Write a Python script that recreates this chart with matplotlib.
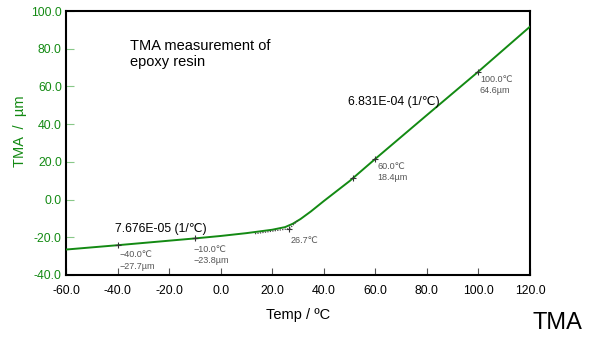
import numpy as np
import matplotlib
matplotlib.use("Agg")
import matplotlib.pyplot as plt

plt.rcParams['font.family'] = ['Liberation Sans', 'DejaVu Sans']
plt.rcParams['axes.unicode_minus'] = False

# TMA curve: temperature (°C) vs displacement (µm)
temp = [-60, -40, -10, 0, 10, 20, 25, 28, 31, 35, 40, 50, 60, 80, 100, 120]
tma = [-26.5, -24.2, -20.6, -19.3, -17.8, -16.0, -14.6, -12.8, -10.3, -6.3, -0.8,
       9.8, 21.6, 44.8, 67.9, 91.7]

# Analysis points (temperatures marked on the curve) and their labels
mark_temps = [-40.0, -10.0, 51.5, 60.0, 100.0]
mark_labels = ["\u221240.0\u2103\n\u221227.7\u00b5m", "\u221210.0\u2103\n\u221223.8\u00b5m",
               "", "60.0\u2103\n18.4\u00b5m", "100.0\u2103\n64.6\u00b5m"]

# Onset from tangent intersection
onset_temp = 26.7
onset_value = -15.4
low_tangent_start = 13.3
high_tangent_end = (30.0, -11.0)

cte_low = "7.676E-05 (1/\u2103)"
cte_high = "6.831E-04 (1/\u2103)"

xticks = [-60, -40, -20, 0, 20, 40, 60, 80, 100, 120]
yticks = [-40, -20, 0, 20, 40, 60, 80, 100]
xticklabels = ["-60.0", "-40.0", "-20.0", "0.0", "20.0", "40.0", "60.0", "80.0", "100.0", "120.0"]
yticklabels = ["-40.0", "-20.0", "0.0", "20.0", "40.0", "60.0", "80.0", "100.0"]

green = '#138a13'
label_grey = '#555555'

fig = plt.figure(figsize=(6, 3.45), dpi=100)
ax = fig.add_axes([0.11, 0.2029, 0.7733, 0.7652])

ax.plot(temp, tma, color=green, lw=1.4, zorder=3)

# Tangent extrapolations (dotted)
low_y0 = float(np.interp(low_tangent_start, temp, tma))
ax.plot([low_tangent_start, onset_temp], [low_y0 - 0.9, onset_value],
        color='#444444', lw=0.9, ls=(0, (1, 1)), zorder=4)
ax.plot([onset_temp, high_tangent_end[0]], [onset_value, high_tangent_end[1]],
        color='#444444', lw=0.9, ls=(0, (1, 1)), zorder=4)
ax.plot([onset_temp], [onset_value], marker='+', color='#333333', ms=5, mew=0.8, zorder=5)

# Marked points on the curve
mark_vals = np.interp(mark_temps, temp, tma)
ax.plot(mark_temps, mark_vals, ls='none', marker='+', color='#333333', ms=5, mew=0.8, zorder=5)

label_pos = [(-39.4, -27.0), (-10.6, -24.3), None, (60.9, 19.8), (100.6, 66.1)]
for lab, pos in zip(mark_labels, label_pos):
    if pos is None or not lab:
        continue
    ax.text(pos[0], pos[1], lab, fontsize=6.5, color=label_grey, va='top', ha='left',
            linespacing=1.3)
ax.text(27.2, -19.3, f"{onset_temp:.1f}\u2103", fontsize=6.5, color=label_grey,
        va='top', ha='left')

ax.text(-41.0, -15.6, cte_low, fontsize=8.8, color='black', va='center', ha='left')
ax.text(49.3, 51.6, cte_high, fontsize=8.8, color='black', va='center', ha='left')

ax.text(-35.3, 85.0, "TMA measurement of\nepoxy resin", fontsize=10.5, color='black',
        va='top', ha='left', linespacing=1.2)

ax.set_xlim(-60, 120)
ax.set_ylim(-40, 100)
ax.set_xticks(xticks)
ax.set_xticklabels(xticklabels)
ax.set_yticks(yticks)
ax.set_yticklabels(yticklabels)
ax.tick_params(axis='x', direction='in', length=5, width=0.8, color='#555555',
               labelsize=8.8, pad=7, labelcolor='black')
ax.tick_params(axis='y', direction='in', length=6, width=0.8, color='#88c888',
               labelsize=8.8, pad=3, labelcolor=green)
for sp in ax.spines.values():
    sp.set_linewidth(1.5)
    sp.set_color('black')

ax.set_xlabel("Temp / \u00baC", fontsize=10.5, labelpad=8)
ax.set_ylabel("TMA  /  \u00b5m", fontsize=10.5, color=green)
ax.yaxis.set_label_coords(-0.084, 0.545)

fig.text(0.888, 0.047, "TMA", fontsize=17, color='black', ha='left', va='baseline')

fig.savefig("out.png", dpi=100)
